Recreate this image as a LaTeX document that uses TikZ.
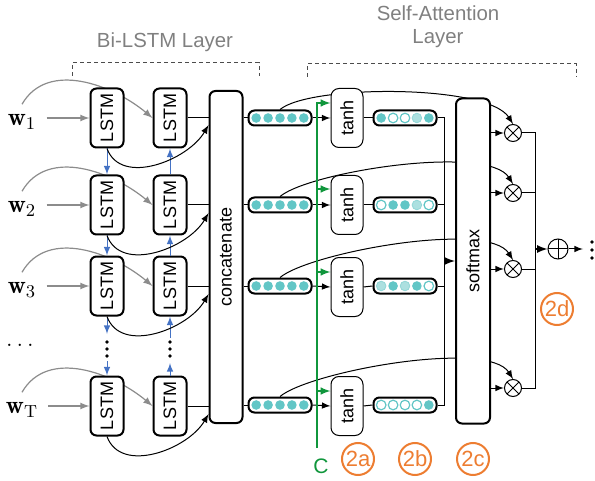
\documentclass[tikz,border=0pt]{standalone}
\usepackage{fontspec}
\newfontfamily\arial{Liberation Sans}
\usetikzlibrary{calc,backgrounds}
\definecolor{attnteal}{RGB}{98,198,198}
\definecolor{attnlight}{RGB}{172,224,224}
\definecolor{lstmblue}{RGB}{68,114,196}
\definecolor{ctxgreen}{RGB}{16,150,60}
\definecolor{tagorange}{RGB}{237,125,49}
\definecolor{titlegray}{RGB}{128,128,128}
\definecolor{inputgray}{RGB}{140,140,140}

% five state dots inside a vector node
\newcommand{\vecdots}[6]{%
  \path[#2] ([xshift=-11.9pt]#1.center) circle (2.4pt);
  \path[#3] ([xshift=-5.95pt]#1.center) circle (2.4pt);
  \path[#4] (#1.center) circle (2.4pt);
  \path[#5] ([xshift=5.95pt]#1.center) circle (2.4pt);
  \path[#6] ([xshift=11.9pt]#1.center) circle (2.4pt);
}

\tikzset{
  boxtext/.style={font=\arial\fontsize{9}{10}\selectfont, rotate=90, inner sep=0pt},
  lstm/.style={draw, line width=1pt, rounded corners=3pt, fill=white, minimum width=16.5pt,
    minimum height=29.5pt, inner sep=0pt, label={[boxtext]center:LSTM}},
  tanhbox/.style={draw, line width=0.5pt, rounded corners=4pt, fill=white, minimum width=16pt,
    minimum height=29.5pt, inner sep=0pt, label={[boxtext]center:tanh}},
  tallbox/.style={draw, line width=1pt, rounded corners=3pt, fill=white, minimum width=16.5pt, inner sep=0pt},
  hvec/.style={draw, line width=1pt, rounded corners=3pt, fill=white, minimum width=31.5pt,
    minimum height=7.5pt, inner sep=0pt},
  dfull/.style={fill=attnteal},
  dopen/.style={fill=white, draw=attnteal, line width=0.6pt},
  dlight/.style={fill=attnlight, draw=attnteal!70, line width=0.4pt},
  mult/.style={circle, draw, line width=0.5pt, fill=white, minimum size=8.5pt, inner sep=0pt,
    path picture={\draw[line width=0.5pt] (path picture bounding box.north west) -- (path picture bounding box.south east)
      (path picture bounding box.north east) -- (path picture bounding box.south west);}},
  plus/.style={circle, draw, line width=0.5pt, fill=white, minimum size=10pt, inner sep=0pt,
    path picture={\draw[line width=0.5pt] (path picture bounding box.north) -- (path picture bounding box.south)
      (path picture bounding box.west) -- (path picture bounding box.east);}},
  word/.style={font=\fontsize{12.5}{14}\selectfont, inner sep=1pt},
  title/.style={font=\arial\fontsize{10.2}{11.5}\selectfont, text=titlegray},
  tag/.style={circle, draw=tagorange, text=tagorange, line width=1pt, minimum size=16pt, inner sep=0pt,
    font=\arial\fontsize{11}{12}\selectfont},
  bracket/.style={draw=black!70, line width=0.5pt, dash pattern=on 2pt off 1.5pt},
  conn/.style={line width=0.5pt},
  input/.style={->, draw=inputgray, line width=0.6pt},
  recur/.style={->, draw=lstmblue, line width=0.5pt},
  ctx/.style={draw=ctxgreen, line width=0.7pt}
}

\begin{document}
\begin{tikzpicture}[x=0.5pt, y=-0.5pt, >=latex]
\useasboundingbox (0,0) rectangle (595,481);

% Titles
\node[title] (bititle) at (165,42) {Bi-LSTM Layer};
\node[title, align=center] (attitle) at (438,27) {Self-Attention\\Layer};
\draw[bracket] (72,76) -- (72,63) -- (259,63) -- (259,76);
\draw[bracket] (307,77) -- (307,64) -- (576,64) -- (576,77);

% Inputs
\node[word] (w1) at (22,122) {$\mathbf{w}_1$};
\node[word] (w2) at (22,209) {$\mathbf{w}_2$};
\node[word] (w3) at (22,290) {$\mathbf{w}_3$};
\node[word] (wd) at (20,345) {$\ldots$};
\node[word] (wT) at (22,410) {$\mathbf{w}_\mathrm{T}$};

% Bi-LSTM
\node[lstm] (f1) at (107,118) {};
\node[lstm] (f2) at (107,205) {};
\node[lstm] (f3) at (107,286) {};
\node[lstm] (fT) at (107,406) {};
\node[lstm] (b1) at (170,118) {};
\node[lstm] (b2) at (170,205) {};
\node[lstm] (b3) at (170,286) {};
\node[lstm] (bT) at (170,406) {};
\coordinate (fd1) at (107,334);
\coordinate (fd2) at (107,361);
\coordinate (bd1) at (170,338);
\coordinate (bd2) at (170,363);
\fill (107,342) circle (0.9pt) (107,349) circle (0.9pt) (107,356) circle (0.9pt);
\fill (170,342) circle (0.9pt) (170,349) circle (0.9pt) (170,356) circle (0.9pt);

\node[tallbox, minimum height=166pt, label={[boxtext]center:concatenate}] (cc) at (226,257) {};

% Hidden states
\node[hvec] (h1) at (280,118) {};
\node[hvec] (h2) at (280,205) {};
\node[hvec] (h3) at (280,286) {};
\node[hvec] (hT) at (280,405) {};
\vecdots{h1}{dfull}{dfull}{dfull}{dfull}{dfull}
\vecdots{h2}{dfull}{dfull}{dfull}{dfull}{dfull}
\vecdots{h3}{dfull}{dfull}{dfull}{dfull}{dfull}
\vecdots{hT}{dfull}{dfull}{dfull}{dfull}{dfull}

% Self-attention
\node[tanhbox] (t1) at (347,118) {};
\node[tanhbox] (t2) at (347,205) {};
\node[tanhbox] (t3) at (347,287) {};
\node[tanhbox] (tT) at (347,406) {};
\node[hvec] (a1) at (405,118) {};
\node[hvec] (a2) at (405,205) {};
\node[hvec] (a3) at (405,286) {};
\node[hvec] (aT) at (405,405) {};
\vecdots{a1}{dfull}{dopen}{dopen}{dlight}{dfull}
\vecdots{a2}{dopen}{dfull}{dfull}{dlight}{dopen}
\vecdots{a3}{dlight}{dfull}{dlight}{dfull}{dopen}
\vecdots{aT}{dopen}{dopen}{dopen}{dopen}{dfull}

\node[tallbox, minimum width=17pt, minimum height=162.5pt, label={[boxtext]center:softmax}] (sm) at (473,261) {};
\coordinate (col) at (444,261);

\node[mult] (m1) at (513,133) {};
\node[mult] (m2) at (513,193) {};
\node[mult] (m3) at (513,269) {};
\node[mult] (mT) at (513,388) {};
\coordinate (sum) at (535,249);
\node[plus] (pl) at (558,249) {};
\coordinate (outp) at (583,249);
\fill (592,242) circle (0.9pt) (592,250) circle (0.9pt) (592,258) circle (0.9pt);

% Context vector
\coordinate (cbot) at (317,448);
\coordinate (g1) at (317,103);
\coordinate (g2) at (317,189);
\coordinate (g3) at (317,272);
\coordinate (gT) at (317,391);
\node[text=ctxgreen, font=\arial\fontsize{10.5}{12}\selectfont] (clab) at (321,466) {C};

% Tags
\node[tag] (s2a) at (358,459) {2a};
\node[tag] (s2b) at (415,459) {2b};
\node[tag] (s2c) at (473,459) {2c};
\node[tag] (s2d) at (557,309) {2d};

% Curves behind boxes
\begin{scope}[on background layer]
\draw[input] ([yshift=4pt]w1.north) to[out=60,in=140] (b1.west);
\draw[input] ([yshift=4pt]w2.north) to[out=60,in=140] (b2.west);
\draw[input] ([yshift=4pt]w3.north) to[out=60,in=140] (b3.west);
\draw[input] ([yshift=4pt]wT.north) to[out=60,in=140] (bT.west);
\draw[conn,->] (h1.north) .. controls +(30,-25) and +(-25,-40) .. (m1.north);
\draw[conn,->] (h2.north) .. controls +(30,-25) and +(-25,-40) .. (m2.north);
\draw[conn,->] (h3.north) .. controls +(30,-25) and +(-25,-40) .. (m3.north);
\draw[conn,->] (hT.north) .. controls +(30,-25) and +(-25,-40) .. (mT.north);
\end{scope}

% Input arrows
\draw[input, shorten <=4pt] (w1.east |- f1.west) -- (f1.west);
\draw[input, shorten <=4pt] (w2.east |- f2.west) -- (f2.west);
\draw[input, shorten <=4pt] (w3.east |- f3.west) -- (f3.west);
\draw[input, shorten <=4pt] (wT.east |- fT.west) -- (fT.west);

% Recurrences
\draw[recur] (f1.south) -- (f2.north);
\draw[recur] (f2.south) -- (f3.north);
\draw[recur] (f3.south) -- (fd1);
\draw[recur] (fd2) -- (fT.north);
\draw[recur] (b2.north) -- (b1.south);
\draw[recur] (b3.north) -- (b2.south);
\draw[recur] (bd1) -- (b3.south);
\draw[recur] (bT.north) -- (bd2);

% Into concatenate
\draw[conn] (b1.east) -- (b1.east -| cc.west);
\draw[conn] (b2.east) -- (b2.east -| cc.west);
\draw[conn] (b3.east) -- (b3.east -| cc.west);
\draw[conn] (bT.east) -- (bT.east -| cc.west);
\draw[conn,->] (f1.south) to[out=-70,in=-120] ($(cc.west |- b1.east)+(0,7)$);
\draw[conn,->] (f2.south) to[out=-70,in=-120] ($(cc.west |- b2.east)+(0,8)$);
\draw[conn,->] (f3.south) to[out=-70,in=-120] ($(cc.west |- b3.east)+(0,8)$);
\draw[conn,->] (fT.south) to[out=-70,in=-120] ($(cc.west |- bT.east)+(0,8)$);
\draw[conn] (cc.east |- h1.west) -- (h1.west);
\draw[conn] (cc.east |- h2.west) -- (h2.west);
\draw[conn] (cc.east |- h3.west) -- (h3.west);
\draw[conn] (cc.east |- hT.west) -- (hT.west);

% Attention flow
\draw[conn,->] (h1.east) -- (t1.west);
\draw[conn,->] (h2.east) -- (t2.west);
\draw[conn,->] (h3.east) -- (t3.west);
\draw[conn,->] (hT.east) -- (tT.west);
\draw[conn] (t1.east) -- (a1.west);
\draw[conn] (t2.east) -- (a2.west);
\draw[conn] (t3.east) -- (a3.west);
\draw[conn] (tT.east) -- (aT.west);
\draw[conn] (a1.east) -| (col);
\draw[conn] (a2.east) -| (col);
\draw[conn] (a3.east) -| (col);
\draw[conn] (aT.east) -| (col);
\draw[conn, line width=0.8pt, ->] (col) -- (col -| sm.west);
\draw[conn,->] (m1 -| sm.east) -- (m1.west);
\draw[conn,->] (m2 -| sm.east) -- (m2.west);
\draw[conn,->] (m3 -| sm.east) -- (m3.west);
\draw[conn,->] (mT -| sm.east) -- (mT.west);
\draw[conn] (m1.east) -| (sum);
\draw[conn] (m2.east) -| (sum);
\draw[conn] (m3.east) -| (sum);
\draw[conn] (mT.east) -| (sum);
\draw[conn, line width=0.8pt, ->] (sum) -- (pl.west);
\draw[conn,->] (pl.east) -- (outp);

% Context arrows
\draw[ctx,->] (cbot) -- (g1) -- (g1 -| t1.west);
\draw[ctx,->] (g2) -- (g2 -| t2.west);
\draw[ctx,->] (g3) -- (g3 -| t3.west);
\draw[ctx,->] (gT) -- (gT -| tT.west);
\end{tikzpicture}
\end{document}
